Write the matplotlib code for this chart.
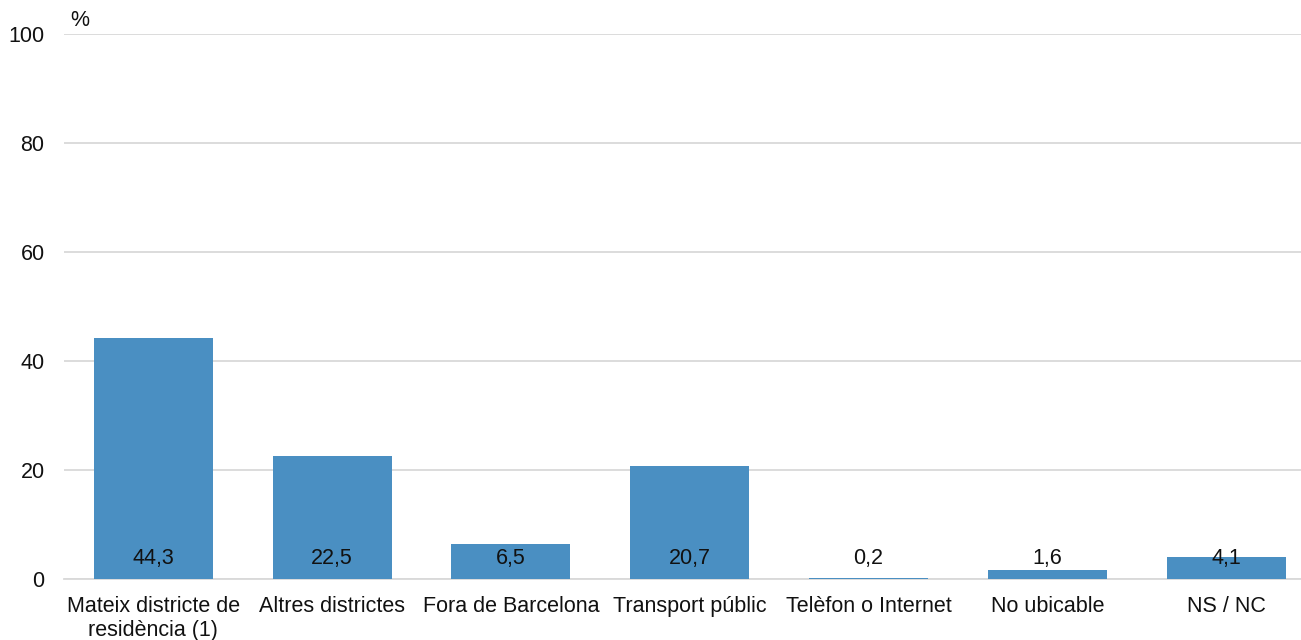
import matplotlib
matplotlib.use("Agg")
import matplotlib.pyplot as plt

categories = ["Mateix districte de\nresidència (1)", "Altres districtes", "Fora de Barcelona",
              "Transport públic", "Telèfon o Internet", "No ubicable", "NS / NC"]
values = [44.3, 22.5, 6.5, 20.7, 0.2, 1.6, 4.1]
value_labels = ["44,3", "22,5", "6,5", "20,7", "0,2", "1,6", "4,1"]
yticks = [0, 20, 40, 60, 80, 100]

plt.rcParams['font.family'] = ['Liberation Sans', 'DejaVu Sans']
FS = 15.5
TC = "#111111"

fig = plt.figure(figsize=(13.01, 6.40), dpi=100)
ax = fig.add_axes([64/1301, 61/640, 1251.5/1301, (579-34)/640])

x = range(len(categories))
ax.bar(x, values, width=0.666, color="#4a8fc2", zorder=3)
for i, lab in enumerate(value_labels):
    ax.text(i, 3.85, lab, ha="center", va="center", fontsize=FS, color=TC, zorder=4)

ax.set_xlim(-0.5, len(categories) - 0.5)
ax.set_ylim(0, 100)
ax.set_yticks(yticks)
ax.set_yticklabels([str(t) for t in yticks], fontsize=FS)
ax.set_xticks(list(x))
ax.set_xticklabels(categories, fontsize=FS, linespacing=1.2)
ax.tick_params(axis="both", length=0, colors=TC)
ax.tick_params(axis="x", pad=12)
ax.tick_params(axis="y", pad=14)
ax.yaxis.grid(True, color="#d9d9d9", linewidth=1.3, zorder=0)
for s in ["top", "right", "left"]:
    ax.spines[s].set_visible(False)
ax.spines["bottom"].set_color("#d9d9d9")
ax.spines["bottom"].set_linewidth(1.3)

fig.text(70/1301, 1 - 20/640, "%", fontsize=FS, va="center", ha="left", color=TC)

fig.savefig("out.png", dpi=100)
